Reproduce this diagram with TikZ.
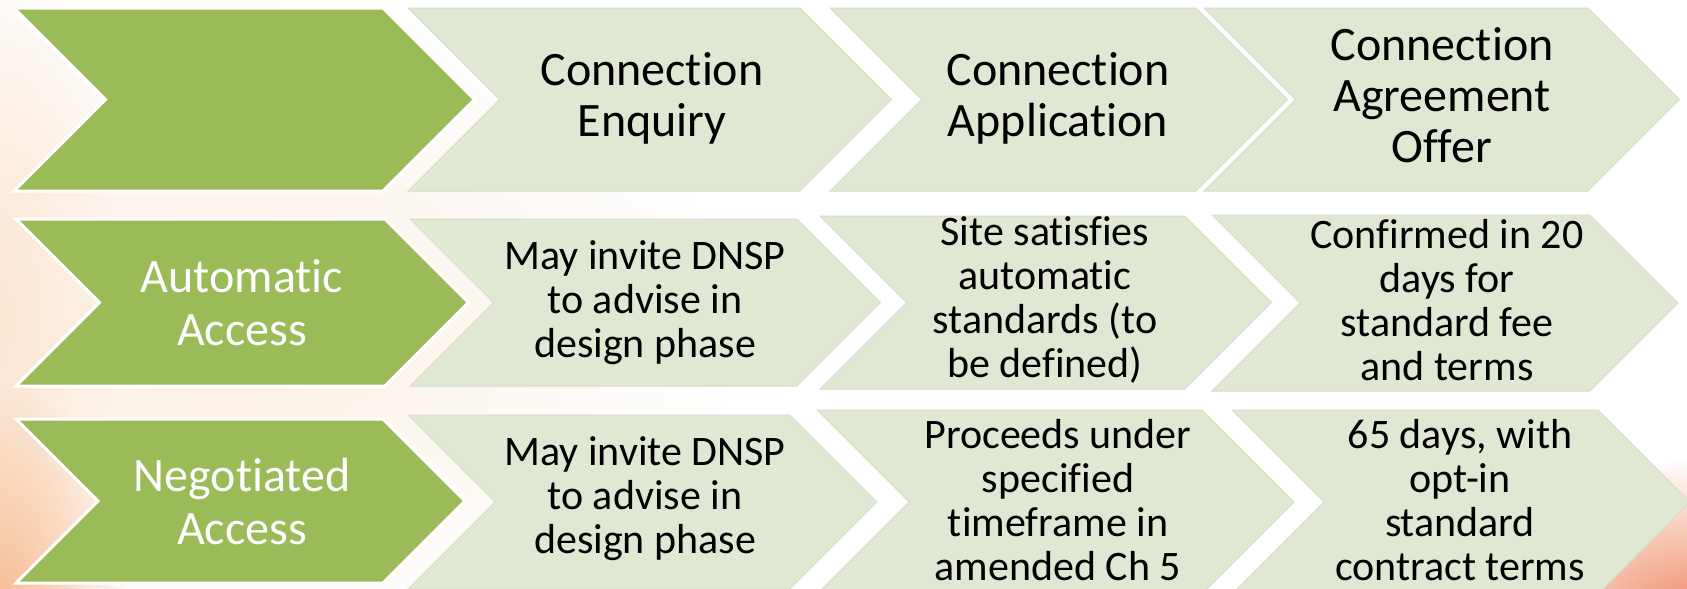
\documentclass[tikz,border=0pt]{standalone}
\usepackage{fontspec}
\setmainfont{Carlito}[Ligatures=NoCommon]
\usetikzlibrary{fadings}
\definecolor{chevgreen}{HTML}{9BBB59}
\definecolor{chevlight}{HTML}{E0E8D4}
\definecolor{chevedge}{HTML}{D5DEC7}
\definecolor{bgcream}{HTML}{FCEFE3}
\definecolor{bgpeach}{HTML}{FBE6D3}
\definecolor{bgorange}{HTML}{F7BC92}
\definecolor{bgcoral}{HTML}{F0906C}
\tikzfading[name=glow, inner color=transparent!0, outer color=transparent!100]
% chevron: style, left x, right x, top y, bottom y
\newcommand{\chevron}[5]{%
  \path[#1] (#2,#4) -- (#3,#4) -- ({#3+(#5-#4)/2},{(#4+#5)/2}) -- (#3,#5)
    -- (#2,#5) -- ({#2+(#5-#4)/2},{(#4+#5)/2}) -- cycle;}
\begin{document}
\begin{tikzpicture}[x=1pt,y=-1pt,
    leadbox/.style={fill=chevgreen,draw=white,line width=3pt,line join=miter},
    cellbox/.style={fill=chevlight,draw=chevedge,line width=1pt,line join=miter},
    head/.style={align=center,inner sep=0pt,font=\fontsize{48}{51}\selectfont},
    body/.style={align=center,inner sep=0pt,font=\fontsize{42}{44}\selectfont},
    side/.style={align=center,inner sep=0pt,text=white,font=\fontsize{48}{53}\selectfont}]
    \clip (0,0) rectangle (1687,589);
    \fill[white] (0,0) rectangle (1687,589);
    \fill[bgcream,path fading=glow] (220,330) ellipse (520 and 330);
    \fill[bgpeach,path fading=glow] (0,320) ellipse (120 and 380);
    \fill[bgorange,path fading=glow] (0,600) ellipse (130 and 220);
    \fill[bgcoral,path fading=glow] (1687,610) ellipse (210 and 150);

    % row 1
    \chevron{leadbox}{14}{383}{8}{191}
    \chevron{cellbox}{408}{800}{8}{191}
    \chevron{cellbox}{830}{1196}{8}{191}
    \chevron{cellbox}{1204}{1588}{8}{191}
    \node[head] (enq) at (652,98) {Connection\\Enquiry};
    \node[head] (app) at (1058,98) {Connection\\Application};
    \node[head] (off) at (1442,95) {Connection\\Agreement\\Offer};

    % row 2
    \chevron{leadbox}{16}{385}{219}{386}
    \chevron{cellbox}{410}{797}{219}{386}
    \chevron{cellbox}{820}{1185}{216}{389}
    \chevron{cellbox}{1212}{1590}{215}{391}
    \node[side] (auto) at (242,303) {Automatic\\Access};
    \node[body] (autoEnq) at (645,303) {May invite DNSP\\to advise in\\design phase};
    \node[body] (autoApp) at (1045,300) {Site satisfies\\automatic\\standards (to\\be defined)};
    \node[body] (autoOff) at (1447,300) {Confirmed in 20\\days for\\standard fee\\and terms};

    % row 3
    \chevron{leadbox}{16}{383}{419}{583}
    \chevron{cellbox}{408}{790}{415}{589}
    \chevron{cellbox}{817}{1202}{410}{594}
    \chevron{cellbox}{1232}{1598}{410}{594}
    \node[side] (nego) at (242,502) {Negotiated\\Access};
    \node[body] (negoEnq) at (645,499) {May invite DNSP\\to advise in\\design phase};
    \node[body] (negoApp) at (1058,500) {Proceeds under\\specified\\timeframe in\\amended Ch 5};
    \node[body] (negoOff) at (1460,500) {65 days, with\\opt-in\\standard\\contract terms};
\end{tikzpicture}
\end{document}
